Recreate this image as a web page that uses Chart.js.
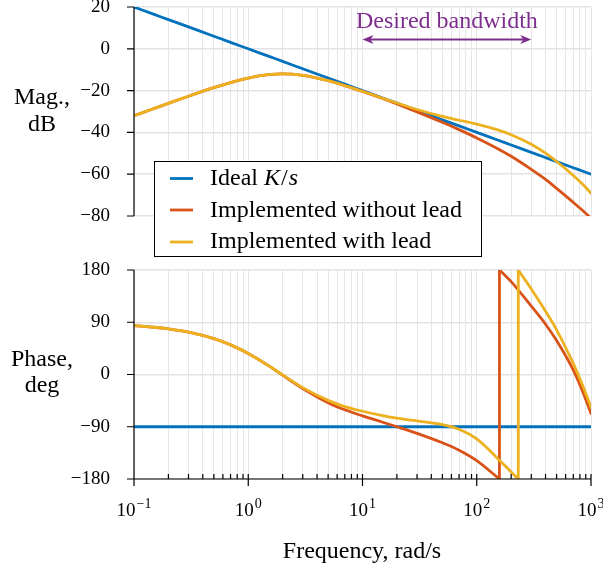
<!DOCTYPE html>
<html>
<head>
<meta charset="utf-8">
<title>Bode plot</title>
<script src="https://cdn.jsdelivr.net/npm/chart.js@4.4.1/dist/chart.umd.min.js"></script>
<style>
  body { margin: 0; background: #fff; }
  #page { position: relative; width: 603px; height: 571px; }
  #page canvas { position: absolute; left: 0; top: 0; }
</style>
</head>
<body>
<div id="page">
  <canvas id="magCanvas" width="603" height="571"></canvas>
  <canvas id="phaseCanvas" width="603" height="571"></canvas>
</div>
<script>
const FONT = "'Liberation Serif', 'Times New Roman', serif";
const BLUE = "#0072BD";
const RED = "#D95319";
const YELLOW = "#EDB120";
const PURPLE = "#7E2F8E";

// frequency samples, rad/s
const freq = [0.1, 0.15, 0.2, 0.3, 0.5, 0.7, 1, 1.5, 2, 3, 5, 7, 10, 15, 20, 30, 50, 70, 100, 150, 200, 300, 400, 500, 700, 850, 1000];

// magnitude, dB
const magIdeal = [20, 16.48, 13.98, 10.46, 6.02, 3.1, 0, -3.52, -6.02, -9.54, -13.98, -16.9, -20, -23.52, -26.02, -29.54, -33.98, -36.9, -40, -43.52, -46.02, -49.54, -52.04, -53.98, -56.9, -58.59, -60];
const magNoLead = [-32.06, -28.57, -26.11, -22.69, -18.59, -16.14, -13.98, -12.4, -12.04, -12.74, -15.27, -17.58, -20.4, -23.8, -26.4, -30.18, -35.18, -38.68, -42.63, -47.56, -51.44, -57.69, -62.5, -66.8, -73.5, -77.5, -81.1];
const magLead = [-32.06, -28.57, -26.11, -22.69, -18.59, -16.14, -13.98, -12.4, -12.04, -12.74, -15.27, -17.58, -20.3, -23.64, -25.95, -29.03, -32.36, -34.19, -36.05, -38.69, -41.13, -45.7, -49.95, -53.92, -60.6, -64.98, -69.1];

// phase, deg (a repeated frequency marks the wrap from -180 to 180)
const phaseFreqNoLead = [0.1, 0.15, 0.2, 0.3, 0.5, 0.7, 1, 1.5, 2, 3, 5, 7, 10, 15, 20, 30, 50, 70, 100, 150, 158, 158, 200, 300, 400, 500, 700, 850, 1000];
const phaseNoLead = [84.3, 81.4, 78.5, 72.8, 61.7, 51.0, 36.3, 15.4, -1.2, -24.0, -48.5, -60.8, -71.3, -82.2, -90.0, -101.4, -117.6, -130.4, -148.3, -176.3, -180, 180, 160.0, 117.8, 86.6, 58.6, 7.5, -30.4, -67.1];
const phaseFreqLead = [0.1, 0.15, 0.2, 0.3, 0.5, 0.7, 1, 1.5, 2, 3, 5, 7, 10, 15, 20, 30, 50, 70, 100, 150, 200, 231, 231, 300, 400, 500, 700, 850, 1000];
const phaseLead = [84.3, 81.4, 78.5, 72.8, 61.7, 51.0, 36.3, 15.4, -0.6, -22.6, -44.6, -55.3, -63.3, -70.9, -75.3, -79.9, -86.3, -94.3, -111.0, -143.2, -167.8, -180, 180, 147.1, 109.0, 77.0, 18.6, -20.2, -56.2];
const phaseFreqIdeal = [0.1, 1000];
const phaseIdeal = [-90, -90];

const magTicks = [-80, -60, -40, -20, 0, 20];
const phaseTicks = [-180, -90, 0, 90, 180];
const decades = [0.1, 1, 10, 100, 1000];
const decadeExp = ["\u22121", "0", "1", "2", "3"];
const bandwidth = [10, 300];

// 1..9 per decade for the vertical grid
const gridFreqs = [];
decades.slice(0, 4).forEach(d => {
  for (let k = 1; k <= 9; k++) gridFreqs.push(+(d * k).toPrecision(3));
});
gridFreqs.push(1000);

function points(xs, ys) {
  return xs.map((x, i) => ({ x: x, y: ys[i] }));
}

function lineDataset(data, color) {
  return {
    data: data,
    borderColor: color,
    borderWidth: 2.8,
    borderCapStyle: "round",
    borderJoinStyle: "round",
    pointRadius: 0,
    fill: false,
    cubicInterpolationMode: "monotone"
  };
}

// cut a phase curve at its wrap, keeping the vertical jump as its own piece
function wrappedDatasets(xs, ys, color) {
  const sets = [];
  let seg = [];
  for (let i = 0; i < xs.length; i++) {
    if (i > 0 && xs[i] === xs[i - 1]) {
      sets.push(lineDataset(seg, color));
      sets.push(lineDataset(points([xs[i - 1], xs[i]], [ys[i - 1], ys[i]]), color));
      seg = [];
    }
    seg.push({ x: xs[i], y: ys[i] });
  }
  sets.push(lineDataset(seg, color));
  return sets;
}

function xScale() {
  return {
    type: "logarithmic",
    min: 0.1,
    max: 1000,
    afterBuildTicks: s => { s.ticks = gridFreqs.map(v => ({ value: v })); },
    afterFit: s => { s.height = 0; s.paddingLeft = 0; s.paddingRight = 0; },
    ticks: { display: false },
    grid: { color: "#e6e6e6", lineWidth: 1, drawTicks: false },
    border: { display: false }
  };
}

function yScale(min, max, ticks) {
  return {
    type: "linear",
    min: min,
    max: max,
    afterBuildTicks: s => { s.ticks = ticks.map(v => ({ value: v })); },
    afterFit: s => { s.width = 134; s.paddingTop = 0; s.paddingBottom = 0; },
    ticks: {
      padding: 24,
      color: "#000",
      font: { family: FONT, size: 19 },
      callback: v => (v < 0 ? "\u2212" + (-v) : "" + v)
    },
    grid: { color: "#e3e3e3", lineWidth: 1.5, drawTicks: false },
    border: { display: false }
  };
}

// black left axis (and bottom axis for the phase plot) with tick marks
function axesPlugin(yTicks, withBottom) {
  return {
    id: "axes",
    afterDraw(chart) {
      const ctx = chart.ctx;
      const a = chart.chartArea;
      const sx = chart.scales.x;
      const sy = chart.scales.y;
      ctx.save();
      ctx.strokeStyle = "#000";
      ctx.lineWidth = 1.2;
      ctx.beginPath();
      ctx.moveTo(a.left, a.top);
      ctx.lineTo(a.left, a.bottom);
      yTicks.forEach(v => {
        const py = sy.getPixelForValue(v);
        ctx.moveTo(a.left - 7, py);
        ctx.lineTo(a.left, py);
      });
      if (withBottom) {
        ctx.moveTo(a.left, a.bottom);
        ctx.lineTo(a.right, a.bottom);
        gridFreqs.forEach(v => {
          const px = sx.getPixelForValue(v);
          const major = decades.indexOf(v) >= 0;
          ctx.moveTo(px, a.bottom - 5);
          ctx.lineTo(px, a.bottom + (major ? 7 : 0));
        });
      }
      ctx.stroke();

      if (withBottom) {
        // 10^n tick labels
        ctx.fillStyle = "#000";
        ctx.textBaseline = "alphabetic";
        ctx.textAlign = "left";
        decades.forEach((v, i) => {
          ctx.font = "19px " + FONT;
          const wb = ctx.measureText("10").width;
          ctx.font = "14px " + FONT;
          const ws = ctx.measureText(decadeExp[i]).width;
          const x0 = sx.getPixelForValue(v) - (wb + ws + 1) / 2;
          ctx.font = "19px " + FONT;
          ctx.fillText("10", x0, 516);
          ctx.font = "14px " + FONT;
          ctx.fillText(decadeExp[i], x0 + wb + 1, 508);
        });
      }
      ctx.restore();
    }
  };
}

// double arrow over the wanted bandwidth
const bandwidthPlugin = {
  id: "bandwidth",
  afterDatasetsDraw(chart) {
    const ctx = chart.ctx;
    const x1 = chart.scales.x.getPixelForValue(bandwidth[0]);
    const x2 = chart.scales.x.getPixelForValue(bandwidth[1]);
    const y = 39.5;
    ctx.save();
    ctx.strokeStyle = PURPLE;
    ctx.fillStyle = PURPLE;
    ctx.lineWidth = 2;
    ctx.beginPath();
    ctx.moveTo(x1 + 4, y);
    ctx.lineTo(x2 - 4, y);
    ctx.stroke();
    [[x1, 1], [x2, -1]].forEach(([x, d]) => {
      ctx.beginPath();
      ctx.moveTo(x, y);
      ctx.lineTo(x + d * 11, y - 4.5);
      ctx.lineTo(x + d * 8, y);
      ctx.lineTo(x + d * 11, y + 4.5);
      ctx.closePath();
      ctx.fill();
    });
    ctx.font = "24px " + FONT;
    ctx.textAlign = "center";
    ctx.textBaseline = "alphabetic";
    ctx.fillText("Desired bandwidth", (x1 + x2) / 2, 27.5);
    ctx.restore();
  }
};

// axis titles and the shared legend, drawn on the upper canvas
const overlayPlugin = {
  id: "overlay",
  afterDraw(chart) {
    const ctx = chart.ctx;
    ctx.save();
    ctx.fillStyle = "#000";
    ctx.textBaseline = "alphabetic";
    ctx.font = "24px " + FONT;
    ctx.textAlign = "center";
    ctx.fillText("Mag.,", 42, 104);
    ctx.fillText("dB", 42, 131);
    ctx.fillText("Phase,", 42, 366);
    ctx.fillText("deg", 42, 392);
    ctx.fillText("Frequency, rad/s", 362, 558);

    // legend box
    ctx.fillStyle = "#fff";
    ctx.fillRect(154, 161, 328, 96);
    ctx.strokeStyle = "#000";
    ctx.lineWidth = 1;
    ctx.strokeRect(154.5, 161.5, 327, 95);

    const rows = [
      { color: BLUE, y: 178.5, base: 185 },
      { color: RED, y: 210, base: 216.5 },
      { color: YELLOW, y: 242, base: 248 }
    ];
    rows.forEach(r => {
      ctx.strokeStyle = r.color;
      ctx.lineWidth = 2.8;
      ctx.beginPath();
      ctx.moveTo(170, r.y);
      ctx.lineTo(193, r.y);
      ctx.stroke();
    });
    ctx.fillStyle = "#000";
    ctx.textAlign = "left";
    ctx.font = "24px " + FONT;
    let x = 210;
    ctx.fillText("Ideal ", x, rows[0].base);
    x += ctx.measureText("Ideal ").width;
    ctx.font = "italic 24px " + FONT;
    ctx.fillText("K", x, rows[0].base);
    x += ctx.measureText("K").width + 1;
    ctx.font = "24px " + FONT;
    ctx.fillText("/", x, rows[0].base);
    x += ctx.measureText("/").width + 1;
    ctx.font = "italic 24px " + FONT;
    ctx.fillText("s", x, rows[0].base);
    ctx.font = "24px " + FONT;
    ctx.fillText("Implemented without lead", 210, rows[1].base);
    ctx.fillText("Implemented with lead", 210, rows[2].base);
    ctx.restore();
  }
};

function commonOptions(padding, yMin, yMax, yTicks) {
  return {
    responsive: false,
    animation: false,
    devicePixelRatio: 1,
    events: [],
    layout: { padding: padding },
    plugins: { legend: { display: false }, tooltip: { enabled: false } },
    scales: { x: xScale(), y: yScale(yMin, yMax, yTicks) }
  };
}

// magnitude plot
new Chart(document.getElementById("magCanvas"), {
  type: "line",
  data: {
    datasets: [
      lineDataset(points(freq, magLead), YELLOW),
      lineDataset(points(freq, magNoLead), RED),
      lineDataset(points(freq, magIdeal), BLUE)
    ]
  },
  options: commonOptions({ left: 0, right: 12, top: 7, bottom: 355 }, -80, 20, magTicks),
  plugins: [axesPlugin(magTicks, false), bandwidthPlugin]
});

// phase plot
new Chart(document.getElementById("phaseCanvas"), {
  type: "line",
  data: {
    datasets: [
      ...wrappedDatasets(phaseFreqLead, phaseLead, YELLOW),
      ...wrappedDatasets(phaseFreqNoLead, phaseNoLead, RED),
      lineDataset(points(phaseFreqIdeal, phaseIdeal), BLUE)
    ]
  },
  options: commonOptions({ left: 0, right: 12, top: 270, bottom: 92 }, -180, 180, phaseTicks),
  plugins: [axesPlugin(phaseTicks, true), overlayPlugin]
});
</script>
</body>
</html>
